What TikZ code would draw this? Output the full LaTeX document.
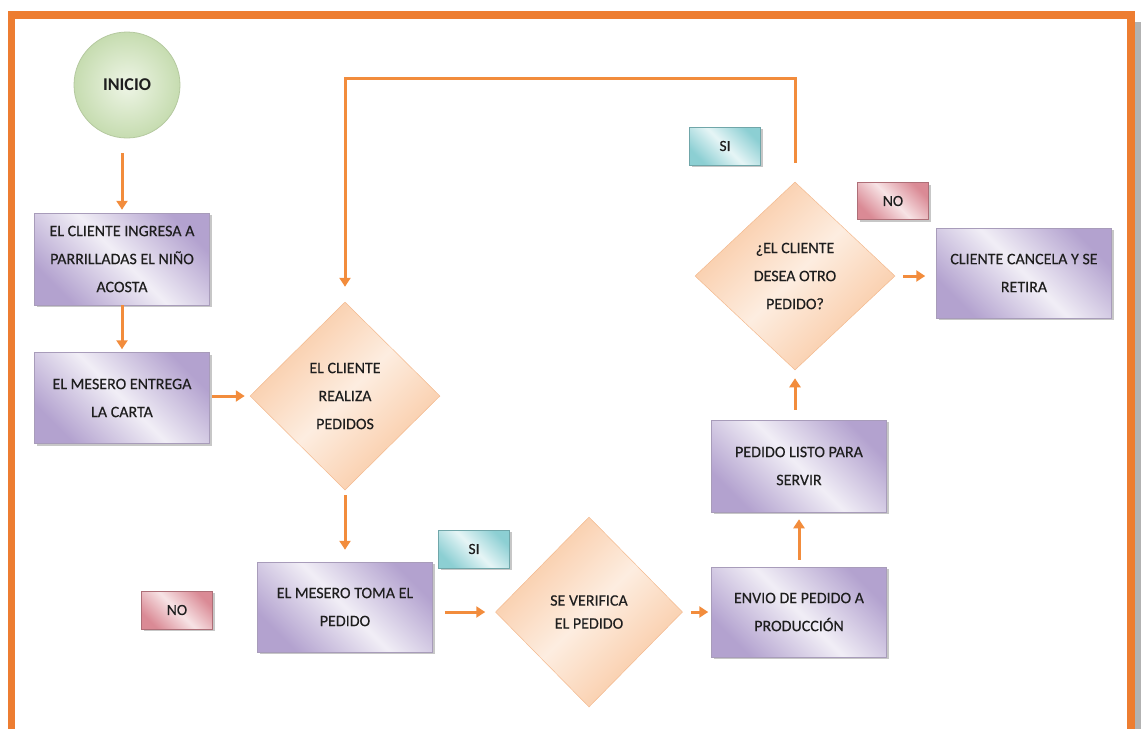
\documentclass[tikz,border=0pt]{standalone}
\usepackage{fontspec}
\setmainfont{Carlito}
\newfontfamily\boxfont{Carlito}[FakeBold=0.3]
\usetikzlibrary{shapes.geometric,arrows.meta,shadows}
\definecolor{frameor}{HTML}{ED7D31}
\definecolor{arrowor}{HTML}{F28C3C}
\definecolor{boxdark}{HTML}{B3A2CF}
\definecolor{boxlight}{HTML}{F1EEF6}
\definecolor{boxedge}{HTML}{A89CBA}
\definecolor{diadark}{HTML}{F9C7A0}
\definecolor{dialight}{HTML}{FDEDE0}
\definecolor{diaedge}{HTML}{F3B98E}
\definecolor{grdark}{HTML}{C6DCB0}
\definecolor{grlight}{HTML}{EEF5E6}
\definecolor{gredge}{HTML}{B5C9A0}
\definecolor{sidark}{HTML}{8CCFD3}
\definecolor{silight}{HTML}{E6F5F6}
\definecolor{nodark}{HTML}{DA8A95}
\definecolor{nolight}{HTML}{F7E3E5}
\definecolor{txt}{HTML}{1E1E1E}
\begin{document}
\begin{tikzpicture}[x=1pt,y=-1pt,
  shad/.style={drop shadow={shadow xshift=2pt,shadow yshift=-2pt,fill=black!40,opacity=0.55}},
  procbox/.style={rectangle,minimum width=175pt,minimum height=91pt,inner sep=2pt,
    left color=boxdark,right color=boxdark,middle color=boxlight,shading angle=135,
    draw=boxedge,line width=0.5pt,shad,align=center,text=txt,
    font=\boxfont\fontsize{16}{28}\selectfont},
  decbox/.style={diamond,aspect=1,inner sep=0pt,
    left color=diadark,right color=diadark,middle color=dialight,shading angle=45,
    draw=diaedge,line width=0.5pt,align=center,text=txt,
    font=\boxfont\fontsize{16}{28}\selectfont},
  startnode/.style={circle,minimum size=106pt,inner sep=0pt,
    inner color=grlight,outer color=grdark,draw=gredge,line width=0.8pt,
    text=txt,font=\fontsize{18}{20}\selectfont\bfseries},
  silabel/.style={rectangle,minimum width=71pt,minimum height=38pt,inner sep=0pt,
    left color=sidark,right color=sidark,middle color=silight,shading angle=135,
    draw=sidark!80!black,line width=0.4pt,shad,text=txt,font=\boxfont\fontsize{15.5}{16}\selectfont},
  nolabel/.style={rectangle,minimum width=71pt,minimum height=38pt,inner sep=0pt,
    left color=nodark,right color=nodark,middle color=nolight,shading angle=135,
    draw=nodark!80!black,line width=0.4pt,shad,text=txt,font=\boxfont\fontsize{15.5}{16}\selectfont},
  arr/.style={draw=arrowor,line width=3pt,-{Triangle[width=11pt,length=9pt]}}
]
\useasboundingbox (0,0) rectangle (1141,729);
% frame
\fill[black!30] (1135,22) rectangle (1141,729);
\fill[frameor] (8,11) rectangle (1135,19);
\fill[frameor] (8,11) rectangle (15,729);
\fill[frameor] (1127,11) rectangle (1135,729);

% nodes
\node[startnode] (inicio) at (127,85) {INICIO};
\node[procbox,minimum height=92pt] (b1) at (122,259) {EL CLIENTE INGRESA A\\PARRILLADAS EL NIÑO\\ACOSTA};
\node[procbox] (b2) at (122,398) {EL MESERO ENTREGA\\LA CARTA};
\node[decbox,minimum width=190pt,minimum height=188pt] (d1) at (345,396) {EL CLIENTE\\REALIZA\\PEDIDOS};
\node[procbox,minimum height=90pt] (b3) at (345,607) {EL MESERO TOMA EL\\PEDIDO};
\node[nolabel] (no1) at (177,610) {NO};
\node[silabel] (si1) at (474,549) {SI};
\node[decbox,minimum width=187pt,minimum height=190pt,font=\boxfont\fontsize{16}{23}\selectfont] (d2) at (589,612) {SE VERIFICA\\EL PEDIDO};
\node[procbox,minimum height=90pt] (b4) at (799,612) {ENVIO DE PEDIDO A\\PRODUCCIÓN};
\node[procbox,minimum height=92pt] (b5) at (799,466) {PEDIDO LISTO PARA\\SERVIR};
\node[decbox,minimum width=200pt,minimum height=188pt] (d3) at (795,276) {¿EL CLIENTE\\DESEA OTRO\\PEDIDO?};
\node[procbox,minimum height=90pt] (b6) at (1024,273) {CLIENTE CANCELA Y SE\\RETIRA};
\node[nolabel,minimum height=37pt] (no2) at (893,201) {NO};
\node[silabel] (si2) at (725,146) {SI};
\coordinate (looptop) at (0,78);

% connectors
\draw[arr,shorten <=15pt,shorten >=3pt] (b1.north |- inicio.south) -- (b1.north);
\draw[arr,shorten >=3pt] (b1) -- (b2);
\draw[arr,shorten <=2pt,shorten >=5pt] (d1.west -| b2.east) -- (d1.west);
\draw[arr,shorten <=5pt,shorten >=12pt] (d1.south) -- (d1.south |- b3.north);
\draw[arr,shorten <=12pt,shorten >=10pt] (b3.east |- d2.west) -- (d2.west);
\draw[arr,shorten <=8pt,shorten >=3pt] (d2.east) -- (b4.west);
\draw[arr,shorten <=7pt,shorten >=7pt] (b4.north) -- (b5.south);
\draw[arr,shorten <=10pt,shorten >=8pt] (d3.south |- b5.north) -- (d3.south);
\draw[arr,shorten <=8pt,shorten >=11pt] (d3.east) -- (d3.east -| b6.west);
\draw[arr,shorten <=19pt,shorten >=15pt] (d3.north) -- (d3.north |- looptop) -- (d1.north |- looptop) -- (d1.north);
\end{tikzpicture}
\end{document}
